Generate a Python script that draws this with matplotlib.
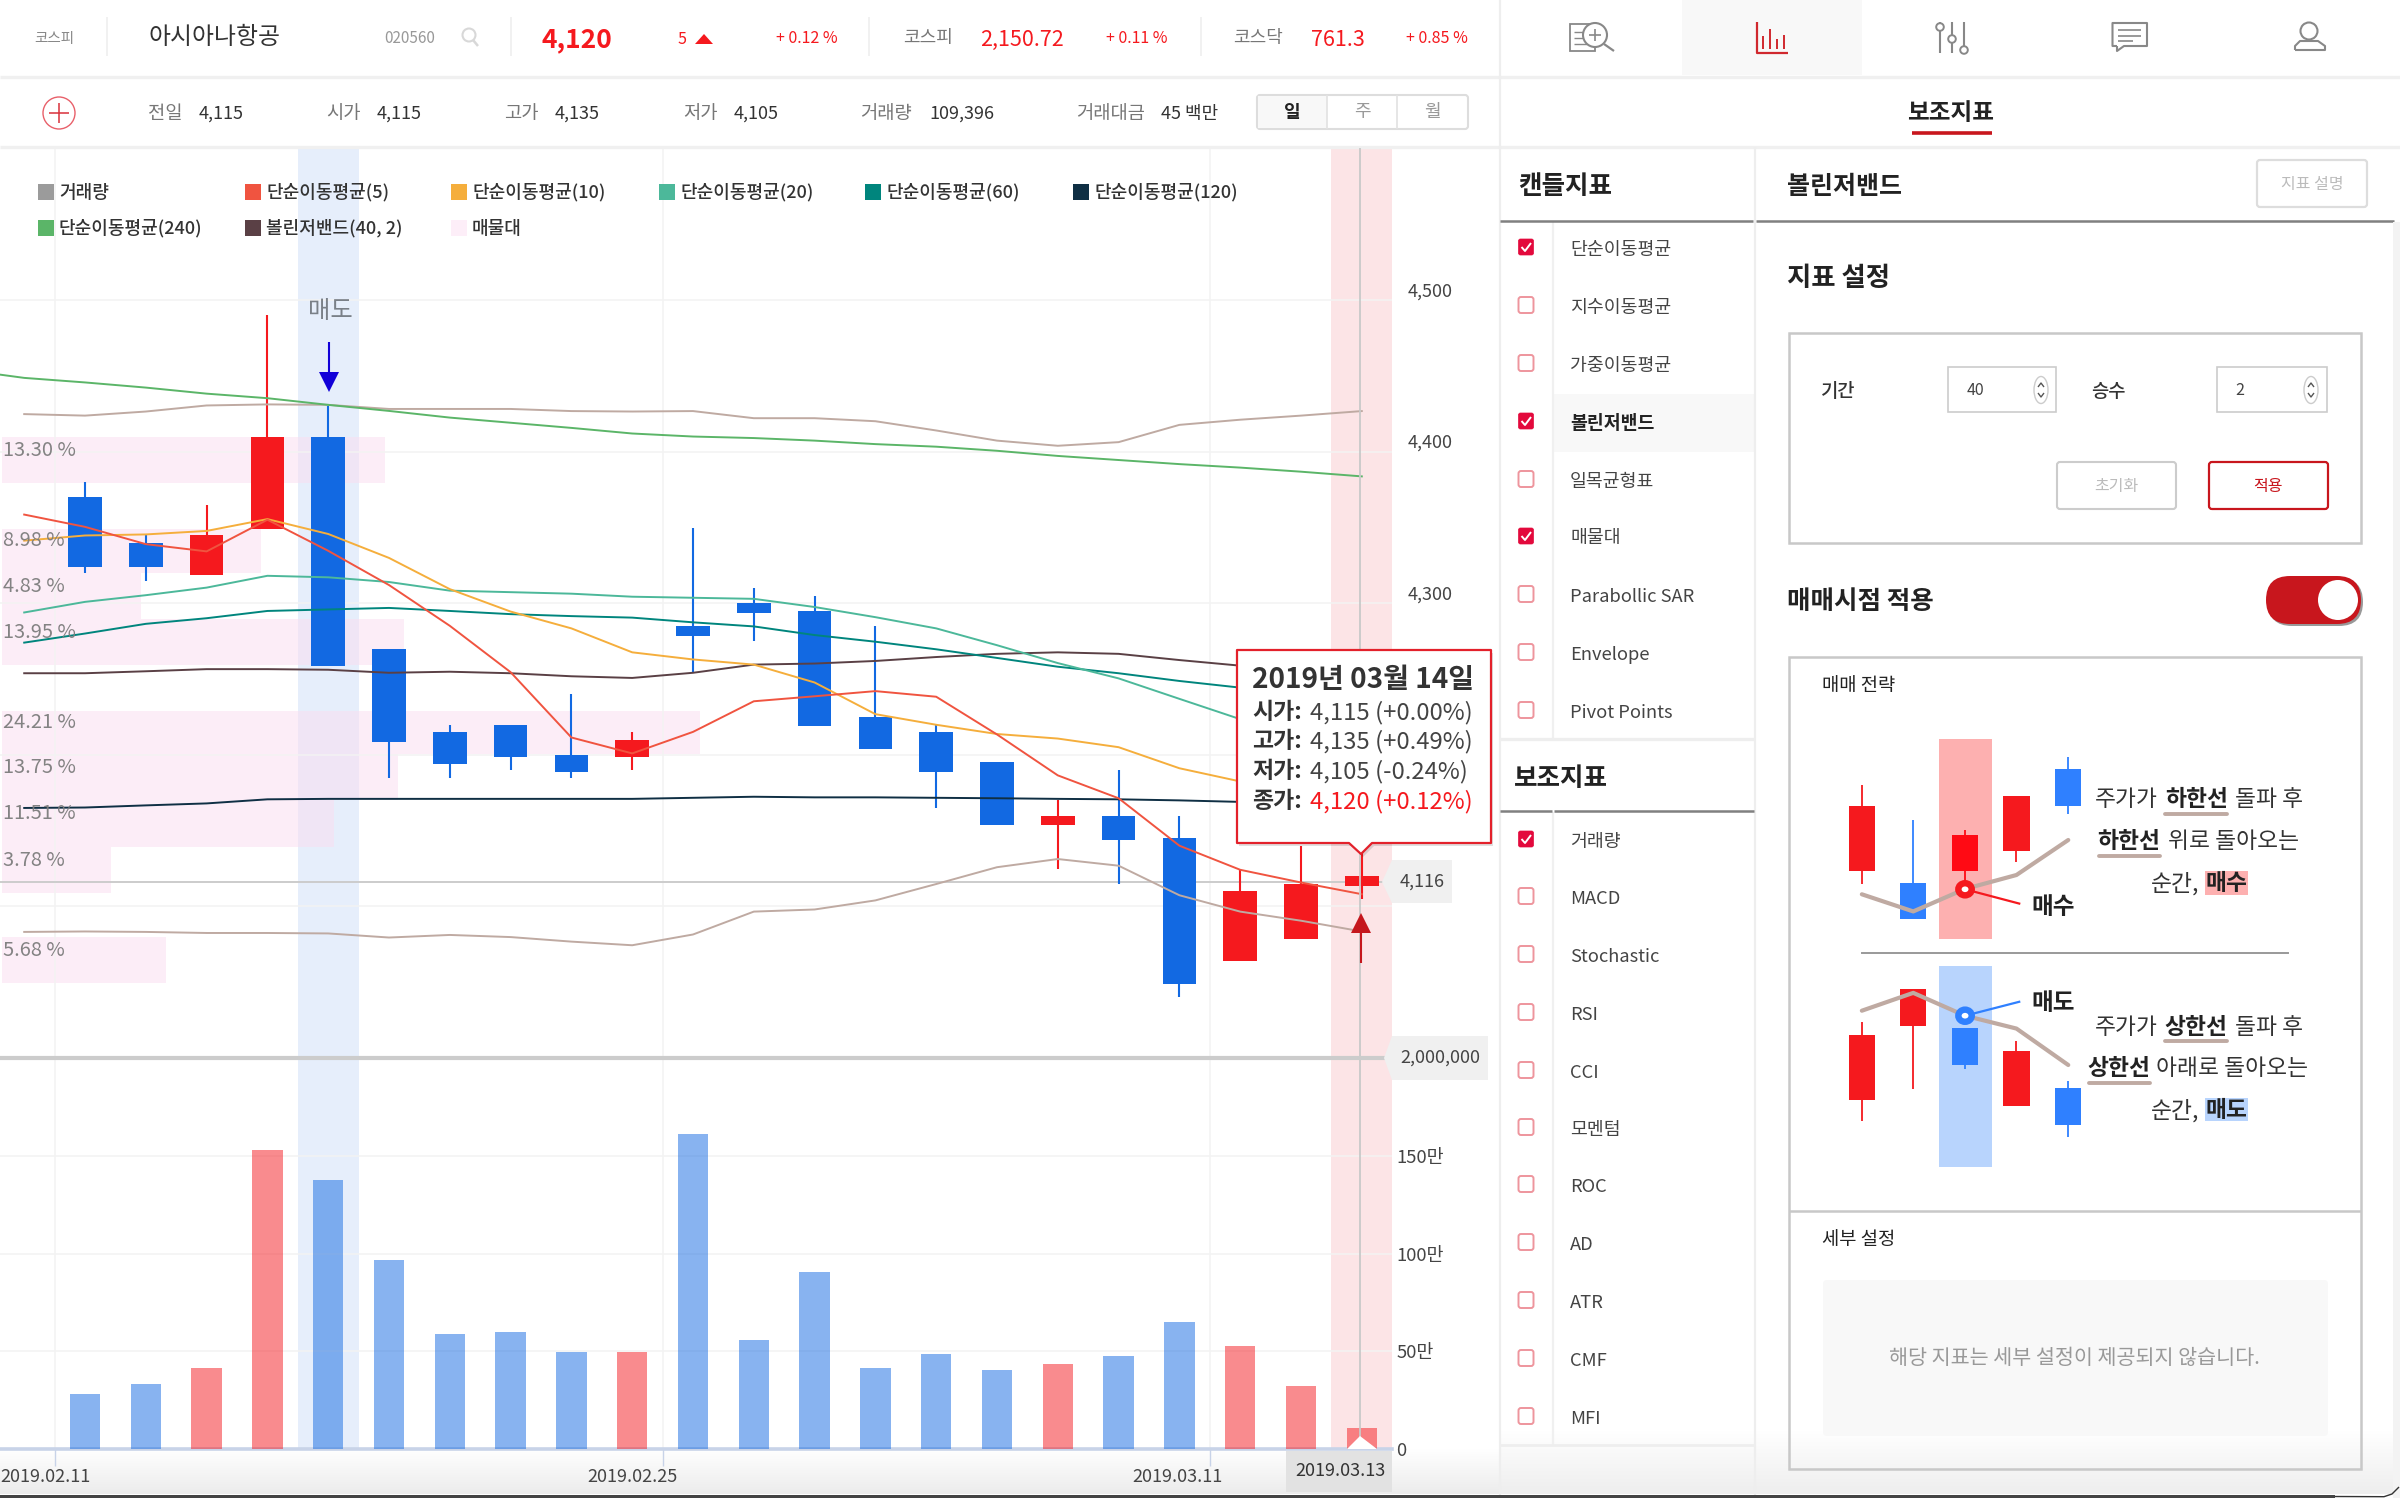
import numpy as np
import matplotlib
matplotlib.use("Agg")
import matplotlib.pyplot as plt
from matplotlib.patches import Rectangle, Circle, FancyBboxPatch, Polygon, Ellipse
from matplotlib.transforms import Affine2D

plt.rcParams["font.family"] = ["Noto Sans CJK JP", "Noto Sans CJK KR", "DejaVu Sans"]
plt.rcParams["axes.unicode_minus"] = False

W, H = 2400, 1498

# ---------- data ----------
opens  = [4370, 4340, 4320, 4350, 4410, 4270, 4215, 4220, 4200, 4200, 4285, 4300, 4295, 4225, 4215, 4195, 4155, 4160, 4145, 4065, 4080, 4115]
highs  = [4380, 4345, 4365, 4490, 4430, 4270, 4220, 4220, 4240, 4215, 4350, 4310, 4305, 4285, 4220, 4195, 4170, 4190, 4160, 4125, 4140, 4135]
lows   = [4320, 4315, 4320, 4350, 4260, 4185, 4185, 4190, 4185, 4190, 4255, 4275, 4220, 4205, 4165, 4155, 4125, 4115, 4040, 4065, 4080, 4105]
closes = [4325, 4325, 4345, 4410, 4260, 4210, 4195, 4200, 4190, 4210, 4280, 4295, 4220, 4205, 4190, 4155, 4160, 4145, 4050, 4110, 4115, 4120]
volumes = [280000, 332000, 414000, 1532000, 1378000, 968000, 588000, 598000, 496000, 496000, 1614000,
           557000, 906000, 414000, 485000, 403000, 434000, 475000, 650000, 526000, 321000, 109396]

sma5 = [4358.6, 4350.5, 4339.1, 4334.3, 4355.2, 4334.7, 4312.1, 4285.2, 4254.6, 4211.5, 4201.0, 4215.2,
        4235.4, 4238.7, 4242.1, 4238.4, 4213.5, 4186.5, 4171.4, 4140.1, 4124.2, 4115.8, 4108.1]
sma10 = [4341.4, 4344.8, 4345.5, 4347.8, 4355.6, 4345.8, 4330.0, 4309.4, 4294.6, 4283.5, 4267.7, 4263.0,
         4259.6, 4247.8, 4226.9, 4219.9, 4213.8, 4210.8, 4205.1, 4191.2, 4182.5, 4174.8, 4168.0]
sma20 = [4294.0, 4301.0, 4305.4, 4310.4, 4318.2, 4317.2, 4314.1, 4308.4, 4307.4, 4306.4, 4304.4, 4303.7,
         4303.0, 4297.6, 4290.9, 4283.5, 4272.4, 4260.6, 4250.5, 4237.0, 4223.6, 4211.8, 4201.7]
sma60 = [4274.1, 4280.1, 4286.5, 4290.2, 4295.0, 4296.0, 4297.0, 4295.0, 4292.9, 4291.6, 4290.6, 4287.5,
         4284.8, 4279.1, 4274.7, 4269.7, 4264.0, 4258.2, 4253.9, 4248.8, 4244.4, 4240.4, 4237.0]
sma120 = [4165.0, 4165.3, 4166.7, 4168.0, 4170.7, 4171.0, 4171.0, 4171.0, 4171.0, 4171.0, 4171.0, 4171.7,
          4172.4, 4172.0, 4172.0, 4171.7, 4171.4, 4171.0, 4170.7, 4170.0, 4169.0, 4168.4, 4167.7]
sma240 = [4454.2, 4448.8, 4445.8, 4442.4, 4438.4, 4435.4, 4431.0, 4427.0, 4422.6, 4419.2, 4415.8, 4412.1,
          4410.1, 4409.1, 4407.4, 4405.1, 4403.4, 4400.7, 4397.3, 4394.6, 4391.9, 4389.6, 4386.9, 4383.8]
boll_upper = [4424.9, 4423.9, 4426.6, 4430.6, 4431.3, 4431.0, 4428.3, 4428.3, 4428.3, 4426.9, 4426.6, 4426.9,
              4422.2, 4422.2, 4420.2, 4414.1, 4407.4, 4404.0, 4406.4, 4417.8, 4421.2, 4423.9, 4426.9]
boll_mid = [4253.9, 4253.9, 4255.2, 4256.6, 4256.6, 4256.2, 4254.2, 4254.9, 4253.9, 4251.9, 4250.8, 4254.2,
            4259.6, 4260.3, 4262.0, 4264.6, 4266.7, 4267.7, 4266.7, 4262.6, 4258.9, 4257.2, 4255.2]
boll_lower = [4083.2, 4083.5, 4083.2, 4082.5, 4082.5, 4082.2, 4079.5, 4081.2, 4079.8, 4076.8, 4074.4, 4081.5,
              4096.6, 4098.0, 4104.0, 4114.8, 4125.9, 4131.3, 4126.9, 4107.4, 4096.6, 4090.6, 4083.5]

profile_pct = [13.30, 8.98, 4.83, 13.95, 24.21, 13.75, 11.51, 3.78, 5.68]
profile_low = [4379.5, 4320.2, 4289.6, 4259.3, 4200.3, 4170.0, 4139.4, 4108.8, 4049.5]
profile_high = [4409.8, 4349.2, 4320.2, 4289.6, 4228.9, 4200.3, 4170.0, 4139.4, 4079.8]

price_ticks = [4100, 4200, 4300, 4400, 4500]
price_tick_labels = ["", "", "4,300", "4,400", "4,500"]  # 4,100 and 4,200 sit behind the value box and tooltip
vol_ticks = [0, 500000, 1000000, 1500000]
vol_tick_labels = ["0", "50만", "100만", "150만"]
date_ticks = [-0.5, 9.5, 18.5]
date_labels = ["2019.02.11", "2019.02.25", "2019.03.11"]
legend_names = ["거래량", "단순이동평균(5)", "단순이동평균(10)", "단순이동평균(20)", "단순이동평균(60)",
                "단순이동평균(120)", "단순이동평균(240)", "볼린저밴드(40, 2)", "매물대"]
candle_items = ["단순이동평균", "지수이동평균", "가중이동평균", "볼린저밴드", "일목균형표", "매물대",
                "Parabollic SAR", "Envelope", "Pivot Points"]
candle_checked = [True, False, False, True, False, True, False, False, False]
aux_items = ["거래량", "MACD", "Stochastic", "RSI", "CCI", "모멘텀", "ROC", "AD", "ATR", "CMF", "MFI"]
aux_checked = [True] + [False] * 10

# ---------- styles ----------
RED, BLUE = "#f5191e", "#1269e2"
GRID = "#f3f3f3"
TXT = "#333333"
GRAY = "#7d7d7d"
DARKRED = "#c8161d"
C_SMA = ["#f05440", "#f5ae3c", "#4cb89a", "#00857d", "#0f2f44", "#5bb568"]
C_BAND, C_MID = "#bfaaa2", "#5a4045"
LEGEND_COLORS = ["#9b9b9b"] + C_SMA + [C_MID, "#fdeef8"]

fig = plt.figure(figsize=(W / 100, H / 100), dpi=100, facecolor="white")


def rect(x0, y0, x1, y1):
    return [x0 / W, 1 - y1 / H, (x1 - x0) / W, (y1 - y0) / H]


def pixel_axes(z):
    a = fig.add_axes([0, 0, 1, 1], zorder=z)
    a.set_xlim(0, W)
    a.set_ylim(H, 0)
    a.axis("off")
    a.patch.set_alpha(0)
    return a


# ---------- background layer ----------
bg = pixel_axes(0)
grad = np.linspace(0, 1, 64).reshape(-1, 1)
cm1 = matplotlib.colors.LinearSegmentedColormap.from_list("g1", ["#ffffff", "#ececec"])
cm2 = matplotlib.colors.LinearSegmentedColormap.from_list("g2", ["#ffffff", "#eeeeee"])
bg.imshow(grad, extent=(0, 1500, 1494, 1449), cmap=cm1, aspect="auto", zorder=1, origin="upper")
bg.imshow(grad, extent=(1500, W, 1494, 1430), cmap=cm2, aspect="auto", zorder=1, origin="upper")
bg.set_xlim(0, W)
bg.set_ylim(H, 0)
bg.add_patch(Rectangle((1682, 0), 180, 75, fc="#f8f8f8", ec="none"))
bg.add_patch(Rectangle((1553, 394), 201, 58, fc="#f8f8f8", ec="none"))

# ---------- chart axes ----------
CHART_X1 = 1392
XL = (-85 / 60.8, (CHART_X1 - 85) / 60.8)
YL = (4000.0, 4600.5)

ax_prof = fig.add_axes(rect(2, 148, CHART_X1 + 2, 1058), zorder=1)
ax_prof.set_xlim(0, CHART_X1 / 28.83)
ax_prof.set_ylim(*YL)
ax_prof.axis("off")
ax_prof.patch.set_alpha(0)
ax_band = fig.add_axes(rect(0, 148, CHART_X1, 1449), zorder=0.5)
ax_band.set_xlim(*XL)
ax_band.set_ylim(0, 1)
ax_band.axis("off")
ax_band.patch.set_alpha(0)
ax_band.axvspan(3.5, 4.5, color="#e6eefb", lw=0)
ax_band.axvspan(20.5, 21.5, color="#fce4e6", lw=0)
for p0, p1, pct in zip(profile_low, profile_high, profile_pct):
    ax_prof.barh((p0 + p1) / 2, pct, height=p1 - p0, color="#fbddf1", alpha=0.5, lw=0)

ax = fig.add_axes(rect(0, 148, CHART_X1, 1058), zorder=2)
ax.patch.set_alpha(0)
ax.set_xlim(*XL)
ax.set_ylim(*YL)
for s in ax.spines.values():
    s.set_visible(False)
ax.set_xticks(date_ticks)
ax.tick_params(axis="x", length=0, labelbottom=False)
ax.set_yticks(price_ticks)
ax.set_yticklabels(price_tick_labels)
ax.yaxis.tick_right()
ax.tick_params(axis="y", length=0, pad=11, labelsize=13, labelcolor="#444444")
for lab in ax.get_yticklabels():
    lab.set_transform(lab.get_transform() + Affine2D().translate(0, 11))
ax.grid(True, color=GRID, lw=1.1, zorder=0)
ax.set_axisbelow(True)

ax.axhline(4116, color="#cccccc", lw=1.4, zorder=1)

xc = np.arange(len(opens))
o, h, l, c = map(np.array, (opens, highs, lows, closes))
cols = [RED if cc >= oo else BLUE for oo, cc in zip(o, c)]
BODY_PAD = 1.2
ax.vlines(xc, l, h, colors=cols, lw=1.5, zorder=3)
ax.bar(xc, np.abs(c - o) + BODY_PAD, bottom=np.minimum(c, o) - BODY_PAD, width=0.555, color=cols, lw=0, zorder=3)

xl = np.arange(-1, 22)
for ser, col in zip([boll_upper, boll_lower], [C_BAND, C_BAND]):
    ax.plot(xl, ser, color=col, lw=1.4, zorder=4)
ax.plot(xl, boll_mid, color=C_MID, lw=1.4, zorder=4)
ax.plot(np.arange(-2, 22), sma240, color=C_SMA[5], lw=1.4, zorder=4)
for ser, col in zip([sma120, sma60, sma20, sma10, sma5], [C_SMA[4], C_SMA[3], C_SMA[2], C_SMA[1], C_SMA[0]]):
    ax.plot(xl, ser, color=col, lw=1.4, zorder=5)

tr = ax.get_yaxis_transform()
for p0, p1, pct in zip(profile_low, profile_high, profile_pct):
    ax.text(0.002, (p0 + p1) / 2 + 6.5, f"{pct:.2f} %", transform=tr, fontsize=14.4, color="#7d7d7d",
            ha="left", va="center", zorder=6, alpha=0.95)

ax_v = fig.add_axes(rect(0, 1058, CHART_X1, 1449), zorder=2)
ax_v.patch.set_alpha(0)
ax_v.set_xlim(*XL)
ax_v.set_ylim(0, 2005000)
for k, s in ax_v.spines.items():
    s.set_visible(k == "bottom")
ax_v.spines["bottom"].set_color("#c8d3e8")
ax_v.spines["bottom"].set_linewidth(2.6)
ax_v.bar(xc, volumes, width=0.5, color=cols, alpha=0.5, lw=0, zorder=3)
ax_v.set_yticks(vol_ticks)
ax_v.set_yticklabels(vol_tick_labels)
ax_v.yaxis.tick_right()
ax_v.tick_params(axis="y", length=0, pad=3, labelsize=13.3, labelcolor="#444444")
ax_v.set_xticks(date_ticks)
ax_v.set_xticklabels(date_labels)
ax_v.tick_params(axis="x", length=12, width=1, color="#c8d3e8", pad=2, labelsize=13, labelcolor="#444444")
for lab, dx in zip(ax_v.get_xticklabels(), [-9, -30, -32]):
    lab.set_transform(lab.get_transform() + Affine2D().translate(dx, 0))
ax_v.grid(True, color=GRID, lw=1.1, zorder=0)
ax_v.set_axisbelow(True)

# ---------- UI overlay ----------
ui = pixel_axes(10)


def T(x, y, s, size=12.5, color=TXT, ha="left", weight="normal", z=20, va="center"):
    return ui.text(x, y + 1.5, s, fontsize=size, color=color, ha=ha, va=va, fontweight=weight, zorder=z)


def L(xs, ys, color="#888888", lw=1.4, z=5, **kw):
    ui.plot(xs, ys, color=color, lw=lw, zorder=z, solid_capstyle=kw.pop("cap", "butt"), **kw)


def R(x0, y0, x1, y1, fc="none", ec="none", lw=1.0, z=5, round_=0):
    if round_:
        ui.add_patch(FancyBboxPatch((x0, y0), x1 - x0, y1 - y0, boxstyle=f"round,pad=0,rounding_size={round_}",
                                    fc=fc, ec=ec, lw=lw, zorder=z))
    else:
        ui.add_patch(Rectangle((x0, y0), x1 - x0, y1 - y0, fc=fc, ec=ec, lw=lw, zorder=z))


# crosshair and separators
L([1360, 1360], [148, 1449], "#c9c9c9", 1.3, z=6)
L([0, 1392], [1058, 1058], "#cccccc", 3.0, z=6)

# panel separators
L([0, W], [76.5, 76.5], "#f0f0f0", 2.4)
L([0, W], [147, 147], "#f0f0f0", 2.4)
L([1500, 1500], [0, H], "#eeeeee", 1.6)
L([1754.5, 1754.5], [147, 1495], "#eeeeee", 1.6)
L([1553, 1553], [222, 738], "#f0f0f0", 1.6)
L([1553, 1553], [812, 1445], "#f0f0f0", 1.6)
L([1500, 1754], [739, 739], "#eeeeee", 2.4)
L([1500, 1754], [1445, 1445], "#eeeeee", 2.0)
L([1500, 1753], [220.5, 220.5], "#808080", 1.8)
L([1756, 2394], [220.5, 220.5], "#808080", 1.8)
L([1500, 1552], [811, 811], "#808080", 1.8)
L([1554, 1754], [811, 811], "#808080", 1.8)
R(2393, 222, 2400, 1498, fc="#f3f3f3")

# header row
for x in (107, 511, 869, 1201):
    L([x, x], [17, 56], "#eeeeee", 1.1)
T(54, 37, "코스피", 10.5, "#888888", "center")
T(148, 36, "아시아나항공", 17.2, "#333333")
T(410, 37, "020560", 11, "#999999", "center")
ui.add_patch(Circle((469, 35), 6.5, fc="none", ec="#d8d8d8", lw=1.5, zorder=5))
L([473, 478], [40, 46], "#d8d8d8", 1.8)
T(577, 38, "4,120", 19, RED, "center", "bold")
T(682, 38, "5", 11.5, RED, "center")
ui.add_patch(Polygon([(695, 44), (713, 44), (704, 34)], fc=RED, ec="none", zorder=5))
T(807, 37, "+ 0.12 %", 11.5, RED, "center")
T(928, 37, "코스피", 13, "#777777", "center")
T(1022, 38, "2,150.72", 15.5, RED, "center")
T(1137, 37, "+ 0.11 %", 11.5, RED, "center")
T(1258, 37, "코스닥", 13, "#777777", "center")
T(1338, 38, "761.3", 15.5, RED, "center")
T(1437, 37, "+ 0.85 %", 11.5, RED, "center")

# quote row
ui.add_patch(Circle((59, 113), 16, fc="white", ec="#e8606a", lw=1.0, zorder=5))
L([49, 69], [113, 113], "#d8303a", 1.1)
L([59, 59], [103, 123], "#d8303a", 1.1)
for x, s in zip((165, 343, 521, 700, 886, 1111), ("전일", "시가", "고가", "저가", "거래량", "거래대금")):
    T(x, 112, s, 13.5, "#777777", "center")
for x, s in zip((221, 399, 577, 756, 962, 1190), ("4,115", "4,115", "4,135", "4,105", "109,396", "45 백만")):
    T(x, 112, s, 13, "#333333", "center")
R(1257, 95, 1468, 129, fc="white", ec="#dddddd", lw=1.5, round_=3)
R(1258, 96, 1327, 128, fc="#f8f8f8", ec="none", z=5.1)
L([1327, 1327], [95, 129], "#e2e2e2", 1.2, z=5.2)
L([1397, 1397], [95, 129], "#e2e2e2", 1.2, z=5.2)
T(1292, 111, "일", 13, "#222222", "center", "bold")
T(1362, 111, "주", 13, "#999999", "center")
T(1432, 111, "월", 13, "#999999", "center")

# legend
lx = [38, 245, 451, 659, 865, 1073, 38, 245, 451]
ly = [192] * 6 + [228] * 3
for x, y, s, col in zip(lx, ly, legend_names, LEGEND_COLORS):
    R(x, y - 8, x + 16, y + 8, fc=col)
    T(x + 21, y - 1, s, 13, "#333333", weight="medium")

# signal markers
T(330, 310, "매도", 17.5, "#7a8088", "center")
L([329, 329], [342, 376], "#1200d8", 1.5)
ui.add_patch(Polygon([(319, 372), (339, 372), (329, 392)], fc="#1200d8", ec="none", zorder=6))
L([1361, 1361], [930, 963], "#c5171d", 1.5, z=7)
ui.add_patch(Polygon([(1351, 933), (1371, 933), (1361, 913)], fc="#c5171d", ec="none", zorder=7))

# value boxes
ui.add_patch(Polygon([(1392, 860), (1452, 860), (1452, 903), (1392, 903), (1382, 882)], fc="#f0f0f0", ec="none", zorder=8))
T(1422, 880, "4,116", 13, "#444444", "center")
ui.add_patch(Polygon([(1392, 1036), (1488, 1036), (1488, 1080), (1392, 1080), (1384, 1058)], fc="#f0f0f0", ec="none", zorder=8))
T(1440, 1056, "2,000,000", 13, "#444444", "center")
R(1286, 1451, 1392, 1492, fc="#e2e2e2", z=8)
ui.add_patch(Polygon([(1347, 1449), (1377, 1449), (1360, 1436)], fc="white", ec="none", zorder=8))
T(1340, 1469, "2019.03.13", 13, "#333333", "center")

# tooltip
tip = [(1237, 650), (1491, 650), (1491, 843), (1372, 843), (1361, 854), (1349, 843), (1237, 843)]
ui.add_patch(Polygon([(a + 2, b + 3) for a, b in tip], fc="#000000", alpha=0.12, ec="none", zorder=12))
ui.add_patch(Polygon(tip, fc="white", ec="#e3212b", lw=1.6, zorder=13, joinstyle="round"))
T(1252, 679, "2019년 03월 14일", 20.2, "#333333", weight="bold", z=14)
rows = [("시가:", "4,115 (+0.00%)", "#444444"), ("고가:", "4,135 (+0.49%)", "#444444"),
        ("저가:", "4,105 (-0.24%)", "#444444"), ("종가:", "4,120 (+0.12%)", RED)]
for yy, (a, b, col) in zip((711, 740.5, 770.5, 800.5), rows):
    T(1252, yy, a, 16.5, "#333333", weight="bold", z=14)
    T(1310, yy, b, 17.2, col, z=14)

# right top icons
ic = "#888888"
R(1570, 24, 1595, 51, fc="none", ec=ic, lw=1.3)
for yy in (32, 38, 44):
    L([1574, 1587], [yy, yy], ic, 1.0)
ui.add_patch(Circle((1595, 35), 12, fc="white", ec=ic, lw=1.5, zorder=6))
L([1589, 1601], [35, 35], ic, 1.2, z=7)
L([1595, 1595], [29, 41], ic, 1.2, z=7)
L([1604, 1614], [44, 51], ic, 1.6)
rc = "#d0282e"
L([1757, 1757, 1788], [22, 53, 53], rc, 1.6)
for x, t in zip((1763, 1770, 1777, 1784), (36, 29, 39, 35)):
    L([x, x], [t, 49], rc, 1.4)
for x, ky in zip((1940, 1952, 1964), (27, 39, 50)):
    L([x, x], [22, 53], ic, 1.5)
    ui.add_patch(Circle((x, ky), 3.8, fc="white", ec=ic, lw=1.4, zorder=6))
L([2117, 2112.5, 2112.5, 2147, 2147, 2124, 2117, 2117], [46, 46, 23, 23, 46, 46, 51, 46], ic, 1.5)
for yy, x1 in ((30, 2141), (36, 2141), (41, 2133)):
    L([2118, x1], [yy, yy], ic, 1.2)
ui.add_patch(Circle((2309, 31), 8.5, fc="none", ec=ic, lw=1.5, zorder=6))
L([2295, 2295, 2300, 2318, 2325, 2325, 2295], [50, 46, 41, 41, 46, 50, 50], ic, 1.5)

# right titles
T(1951, 111, "보조지표", 17, "#222222", "center", "bold")
L([1912, 1992], [133, 133], DARKRED, 2.6)
T(1518, 185, "캔들지표", 18.4, "#222222", weight="bold")
T(1514, 777, "보조지표", 18.4, "#222222", weight="bold")
T(1787, 185, "볼린저밴드", 18, "#222222", weight="bold")
R(2257, 160, 2367, 207, fc="white", ec="#dddddd", lw=1.6, round_=3)
T(2312, 183, "지표 설명", 11.5, "#bbbbbb", "center")


def checkbox(y, on):
    if on:
        R(1518.5, y - 8, 1533.5, y + 8, fc="#e3093c", ec="#e3093c", lw=0.5, round_=2, z=6)
        L([1521.5, 1525, 1531], [y, y + 4, y - 4], "white", 1.4, z=7)
    else:
        R(1518.5, y - 8, 1533.5, y + 8, fc="white", ec="#ee959d", lw=1.4, round_=2.5, z=6)


ys1 = [248, 306, 364, 422, 480, 537, 595, 653, 711]
for y, s, on in zip(ys1, candle_items, candle_checked):
    checkbox(y - 1, on)
    T(1570, y, s, 13.2, "#222222" if s == "볼린저밴드" else "#444444", weight="bold" if s == "볼린저밴드" else "normal")
ys2 = [840, 897, 955, 1013, 1071, 1128, 1185, 1243, 1301, 1359, 1417]
for y, s, on in zip(ys2, aux_items, aux_checked):
    checkbox(y - 1, on)
    T(1570, y, s, 13.2, "#444444")

# settings
T(1787, 277, "지표 설정", 19, "#222222", weight="bold")
R(1789, 333, 2361, 543, fc="white", ec="#c8c8c8", lw=1.8)
T(1821, 390, "기간", 13.5, "#333333", weight="medium")
T(2091, 390, "승수", 13.5, "#333333", weight="medium")
for x0, x1, val, vx, sx in ((1948, 2056, "40", 1975, 2041), (2217, 2327, "2", 2240, 2311)):
    R(x0, 367, x1, 412, fc="white", ec="#cccccc", lw=1.2)
    T(vx, 389, val, 11.5, "#444444", "center")
    ui.add_patch(Ellipse((sx, 390), 14, 27, fc="white", ec="#cccccc", lw=1.0, zorder=6))
    L([sx - 3, sx, sx + 3], [387, 383, 387], "#555555", 1.0, z=7)
    L([sx - 3, sx, sx + 3], [393, 397, 393], "#555555", 1.0, z=7)
R(2057, 462, 2176, 509, fc="white", ec="#cccccc", lw=1.5, round_=3)
T(2116, 485, "초기화", 11.5, "#bbbbbb", "center")
R(2209, 462, 2328, 509, fc="white", ec=DARKRED, lw=1.6, round_=3)
T(2268, 485, "적용", 11.5, DARKRED, "center")
T(1787, 600, "매매시점 적용", 18.4, "#222222", weight="bold")
R(2268, 578, 2363, 626, fc="#999999", z=5, round_=24)
R(2266, 576, 2361, 624, fc="#c8161d", z=5.5, round_=24)
ui.add_patch(Ellipse((2338, 600), 40, 40, fc="white", ec="none", zorder=6))

# strategy box
R(1789, 657, 2361, 1469, fc="none", ec="#c8c8c8", lw=1.8, z=4)
L([1789, 2361], [1211, 1211], "#c8c8c8", 1.8)
T(1822, 684, "매매 전략", 13.5, "#222222")
T(1822, 1238, "세부 설정", 13.5, "#222222")
R(1823, 1280, 2328, 1436, fc="#f8f8f8", round_=4)
T(2074, 1357, "해당 지표는 세부 설정이 제공되지 않습니다.", 14.9, "#999999", "center")

# bottom edge
R(0, 1495, 2335, 1498, fc="#444444", z=30)
L([2335, 2384, 2392, 2399], [1496.5, 1496.7, 1494, 1487], "#333333", 1.0, z=30)

# ---------- illustration in its own axes ----------
ill = fig.add_axes(rect(1780, 640, 2400, 1200), zorder=11)
ill.set_xlim(0, 1568)
ill.set_ylim(1568, 0)
ill.axis("off")
ill.patch.set_alpha(0)
IR, IB = "#f5191e", "#2f80ff"


def icandle(xc_, wt, wb, bt, bb, col, hw=33.5):
    ill.plot([xc_, xc_], [wt, wb], color=col, lw=1.3, zorder=3, solid_capstyle="butt")
    ill.add_patch(Rectangle((xc_ - hw, bt), 2 * hw, bb - bt, fc=col, ec="none", zorder=3))


def itext(x, y, s, weight="normal", ha="left", size=16.4, col="#333333"):
    ill.text(x, y + 3, s, fontsize=size, fontweight=weight, color=col, ha=ha, va="center", zorder=8)


def iul(x0, x1, y):
    ill.plot([x0, x1], [y, y], color=C_BAND, lw=2.8, solid_capstyle="round", zorder=2)


def iring(x, y, col):
    ill.add_patch(Circle((x, y), 17, fc="white", ec=col, lw=4.6, zorder=6))


ill.add_patch(Rectangle((401, 278), 134, 560, fc="#fdb0b0", ec="none", zorder=1))
for a in ((207, 407, 682, 465, 647, IR), (337, 505, 782, 680, 782, IB), (468, 533, 690, 545, 647, "#ff0a14"),
          (598, 437, 621, 437, 590, IR), (729, 328, 486, 362, 465, IB)):
    icandle(*a)
ill.plot([207, 337, 468, 598, 729], [712, 760, 697, 658, 560], color=C_BAND, lw=3.0, solid_capstyle="round", zorder=4)
ill.plot([468, 605], [698, 738], color=IR, lw=1.6, zorder=5)
iring(468, 698, IR)
itext(691, 744, "매수", "bold", "center", 17, "#222222")
itext(797, 445, "주가가")
itext(973, 445, "하한선", "bold", col="#222222")
itext(1150, 445, "돌파 후")
iul(974, 1131, 488)
itext(803, 562, "하한선", "bold", col="#222222")
itext(980, 562, "위로 돌아오는")
iul(807, 962, 605)
itext(938, 680, "순간,")
ill.add_patch(Rectangle((1075, 647), 108, 66, fc="#fdb0b0", ec="none", zorder=2))
itext(1129, 680, "매수", "bold", "center", col="#222222")

ill.plot([207, 1284], [876, 876], color="#999999", lw=1.4, zorder=2)

ill.add_patch(Rectangle((401, 913), 134, 562, fc="#b8d4fd", ec="none", zorder=1))
for a in ((207, 1070, 1347, 1105, 1287, IR), (337, 978, 1257, 978, 1082, IR), (468, 1086, 1200, 1086, 1190, IB),
          (598, 1122, 1306, 1152, 1306, IR), (729, 1235, 1392, 1254, 1358, IB)):
    icandle(*a)
ill.plot([207, 337, 468, 598, 729], [1038, 988, 1052, 1088, 1190], color=C_BAND, lw=3.0, solid_capstyle="round", zorder=4)
ill.plot([468, 605], [1052, 1013], color=IB, lw=1.6, zorder=5)
iring(468, 1052, IB)
itext(691, 1014, "매도", "bold", "center", 17, "#222222")
itext(797, 1082, "주가가")
itext(973, 1082, "상한선", "bold", col="#222222")
itext(1150, 1082, "돌파 후")
iul(974, 1131, 1124)
itext(778, 1197, "상한선", "bold", col="#222222")
itext(952, 1197, "아래로 돌아오는")
iul(782, 936, 1241)
itext(938, 1315, "순간,")
ill.add_patch(Rectangle((1075, 1283), 108, 65, fc="#b8d4fd", ec="none", zorder=2))
itext(1129, 1315, "매도", "bold", "center", col="#222222")

fig.savefig("out.png", dpi=100, facecolor="white")
